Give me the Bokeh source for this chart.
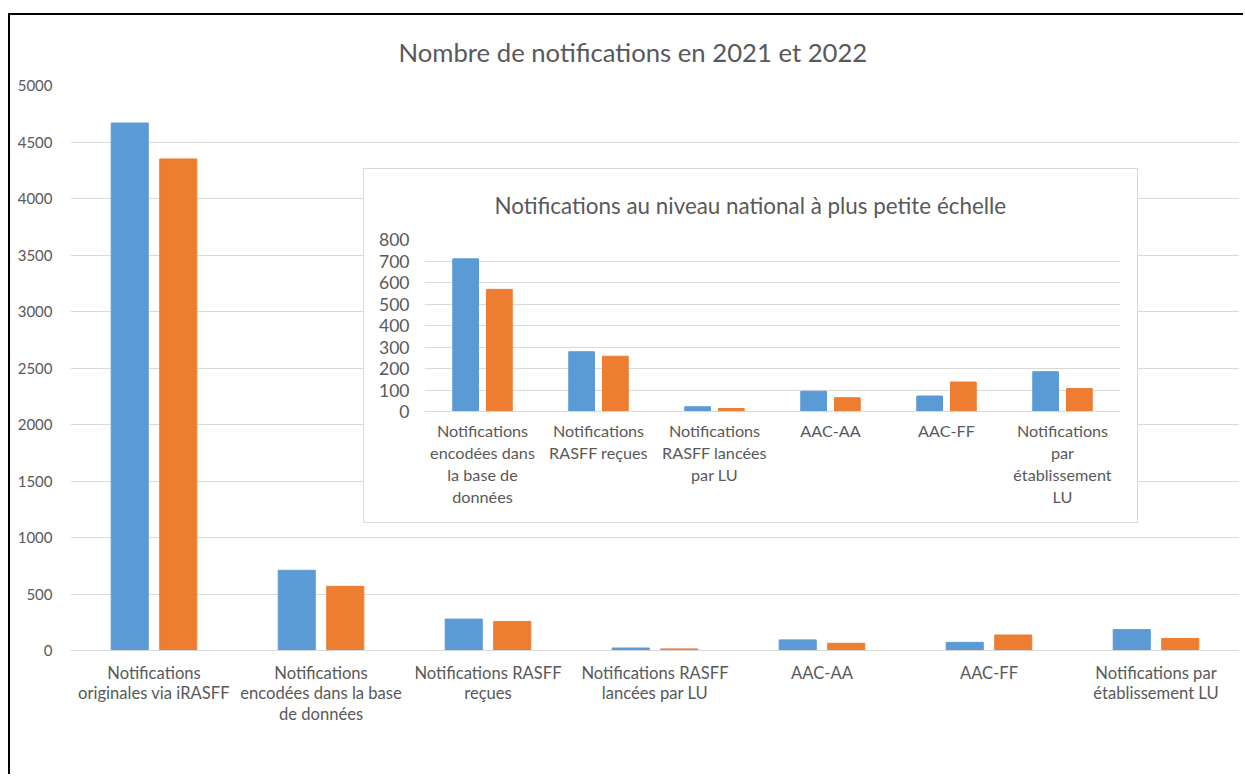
from bokeh.plotting import figure
from bokeh.models import (ColumnDataSource, FactorRange, Range1d, Legend, LegendItem,
                          GridBox, FixedTicker)
from bokeh.transform import dodge
from bokeh.embed import file_html
from bokeh.resources import INLINE

# ---------------- data ----------------
years = ["2021", "2022"]

main_categories = [
    "Notifications\noriginales via iRASFF",
    "Notifications\nencodées dans la base\nde données",
    "Notifications RASFF\nreçues",
    "Notifications RASFF\nlancées par LU",
    "AAC-AA",
    "AAC-FF",
    "Notifications par\nétablissement LU",
]
main_2021 = [4668, 710, 278, 22, 94, 72, 185]
main_2022 = [4350, 568, 257, 14, 64, 137, 107]
main_ticks = [0, 500, 1000, 1500, 2000, 2500, 3000, 3500, 4000, 4500, 5000]

inset_categories = [
    "Notifications\nencodées dans\nla base de\ndonnées",
    "Notifications\nRASFF reçues",
    "Notifications\nRASFF lancées\npar LU",
    "AAC-AA",
    "AAC-FF",
    "Notifications\npar\nétablissement\nLU",
]
inset_2021 = [710, 278, 22, 94, 72, 185]
inset_2022 = [568, 257, 14, 64, 137, 107]
inset_ticks = [0, 100, 200, 300, 400, 500, 600, 700, 800]

main_title = "Nombre de notifications en 2021 et 2022"
inset_title = "Notifications au niveau national à plus petite échelle"

# ---------------- style ----------------
FONT = "Lato"
TXT = "#595959"
GRID = "#d9d9d9"
BLUE = "#5B9BD5"
ORANGE = "#ED7D31"
BAR_W = 0.222
OFF = 0.1453


def style_axes(fig, ticks, tick_size, cat_size, cat_lh, cat_standoff, y_standoff):
    fig.outline_line_color = None
    fig.xgrid.grid_line_color = None
    fig.ygrid.grid_line_color = GRID
    fig.ygrid.grid_line_width = 1
    fig.yaxis.ticker = FixedTicker(ticks=ticks)
    fig.yaxis.axis_line_color = None
    for ax in (fig.xaxis, fig.yaxis):
        ax.major_tick_line_color = None
        ax.minor_tick_line_color = None
        ax.major_tick_out = 0
        ax.major_tick_in = 0
        ax.minor_tick_out = 0
        ax.minor_tick_in = 0
    fig.yaxis.major_label_standoff = y_standoff
    fig.yaxis.major_label_text_font = FONT
    fig.yaxis.major_label_text_font_size = tick_size
    fig.yaxis.major_label_text_color = TXT
    fig.xaxis.axis_line_color = GRID
    fig.xaxis.major_label_standoff = cat_standoff
    fig.xaxis.major_label_text_font = FONT
    fig.xaxis.major_label_text_font_size = cat_size
    fig.xaxis.major_label_text_color = TXT
    fig.xaxis.major_label_text_line_height = cat_lh
    fig.title.text_font = FONT
    fig.title.text_font_style = "normal"
    fig.title.text_color = TXT
    fig.title.align = "left"


# ---------------- main chart ----------------
# canvas top-left on the page: (10, 15); frame spans x 70..1239, y 85..650
src = ColumnDataSource(dict(cat=main_categories, y2021=main_2021, y2022=main_2022))
p = figure(x_range=FactorRange(*main_categories), y_range=Range1d(0, 5000),
           width=1229, height=755, frame_width=1169, frame_height=565,
           output_backend="svg", toolbar_location=None,
           min_border_left=60, min_border_right=0, min_border_top=70,
           min_border_bottom=40, title=main_title)
style_axes(p, main_ticks, "15px", "16.6px", 1.03, 12, 18)
p.title.text_font_size = "25.7px"
p.title.standoff = 38
p.title.offset = 328
r1 = p.vbar(x=dodge("cat", -OFF, range=p.x_range), top="y2021", width=BAR_W,
            source=src, fill_color=BLUE, line_color=BLUE)
r2 = p.vbar(x=dodge("cat", OFF, range=p.x_range), top="y2022", width=BAR_W,
            source=src, fill_color=ORANGE, line_color=ORANGE)
legend = Legend(items=[LegendItem(label=years[0], renderers=[r1]),
                       LegendItem(label=years[1], renderers=[r2])],
                orientation="horizontal", location="top_center",
                glyph_width=7, glyph_height=7, label_standoff=6, spacing=14,
                padding=0, margin=18, label_height=18,
                label_text_font=FONT, label_text_font_size="15px",
                label_text_color=TXT, border_line_color=None,
                background_fill_alpha=0)
p.add_layout(legend, "below")

# ---------------- inset chart ----------------
# canvas top-left on the page: (364, 169); frame spans x 421..1115, y 238..408
src2 = ColumnDataSource(dict(cat=inset_categories, y2021=inset_2021, y2022=inset_2022))
q = figure(x_range=FactorRange(*inset_categories), y_range=Range1d(0, 800),
           width=773, height=352, frame_width=694, frame_height=170,
           output_backend="svg", toolbar_location=None,
           min_border_left=57, min_border_right=22, min_border_top=69,
           min_border_bottom=113, title=inset_title,
           margin=(153, 0, 0, 353),
           styles={"border": "1px solid #d9d9d9", "background": "white"})
style_axes(q, inset_ticks, "17.5px", "16.2px", 1.165, 9, 15)
q.title.text_font_size = "22.4px"
q.title.standoff = 41
q.title.offset = 70
q.vbar(x=dodge("cat", -OFF, range=q.x_range), top="y2021", width=BAR_W,
       source=src2, fill_color=BLUE, line_color=BLUE)
q.vbar(x=dodge("cat", OFF, range=q.x_range), top="y2022", width=BAR_W,
       source=src2, fill_color=ORANGE, line_color=ORANGE)

layout = GridBox(children=[(p, 0, 0), (q, 0, 0)], margin=(13, 0, 0, 8),
                 width=1235, height=761,
                 styles={"border-left": "2px solid black", "border-top": "2px solid black",
                         "overflow": "hidden"})

open("out.html", "w").write(file_html(layout, INLINE))
